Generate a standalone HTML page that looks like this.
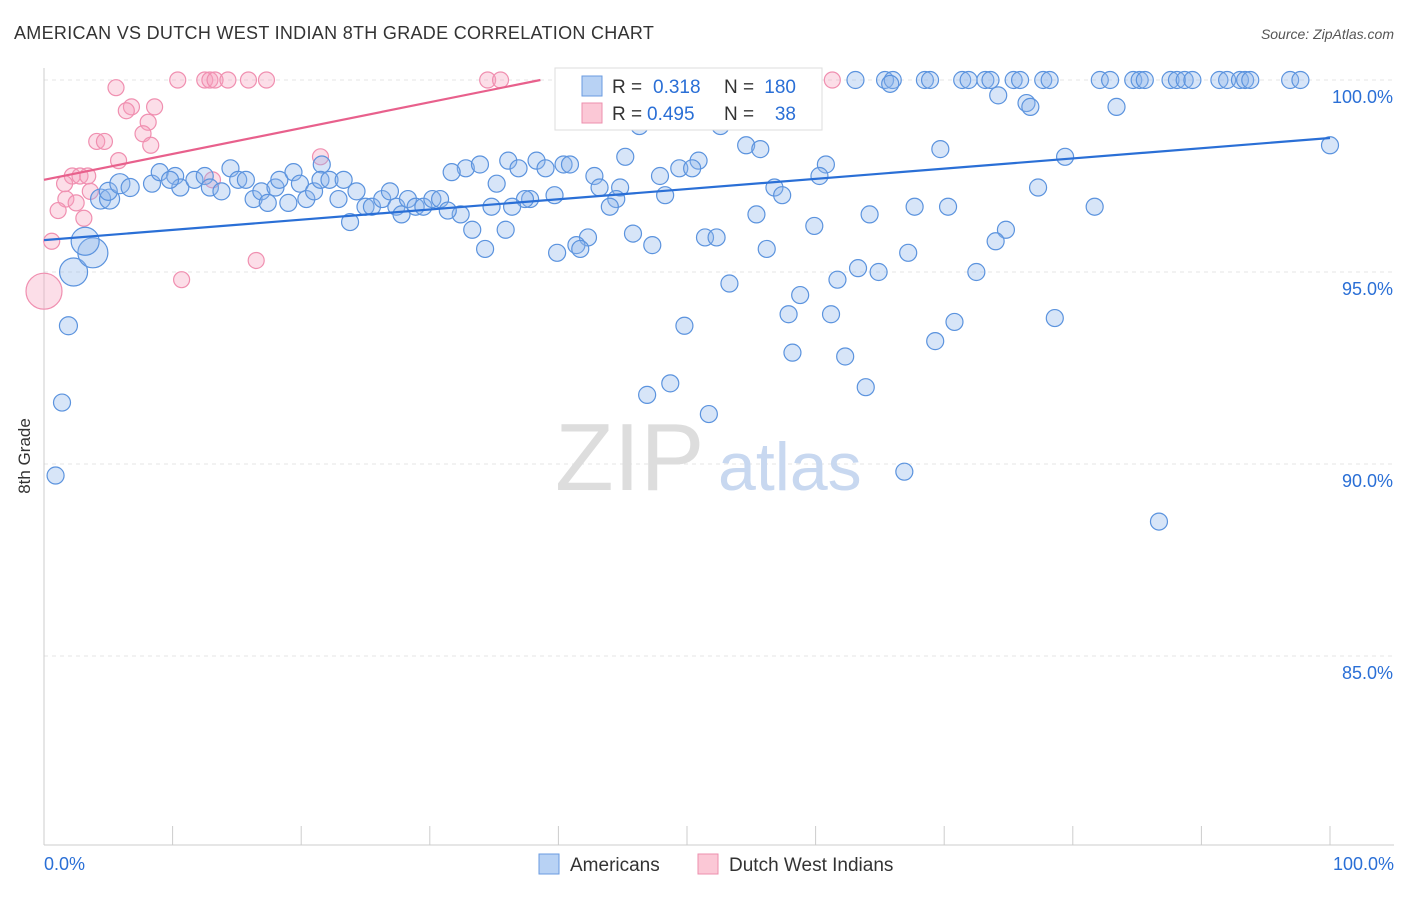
<!DOCTYPE html>
<html><head><meta charset="utf-8"><style>
body{margin:0;background:#fff;font-family:"Liberation Sans",sans-serif}
svg text{font-family:"Liberation Sans",sans-serif}
</style></head><body>
<svg id="chart" width="1406" height="892">
<text x="14" y="39" font-size="18" letter-spacing="0.3" fill="#333">AMERICAN VS DUTCH WEST INDIAN 8TH GRADE CORRELATION CHART</text>
<text x="1394" y="39" font-size="14" fill="#555" text-anchor="end" font-style="italic">Source: ZipAtlas.com</text>
<text x="30" y="456" font-size="17" fill="#333" transform="rotate(-90 30 456)" text-anchor="middle">8th Grade</text>
<g id="grid"></g>
<text x="555" y="490" font-size="96" fill="#ddd" font-family="Liberation Serif">ZIP</text>
<text x="718" y="490" font-size="68" fill="#c8d8f0">atlas</text>
<g id="marks"></g>
<g>
<rect x="555" y="68" width="267" height="62" fill="#fff" stroke="#ddd"/>
<rect x="582" y="76" width="20" height="20" fill="#b8d2f4" stroke="#6a9be0"/>
<rect x="582" y="103" width="20" height="20" fill="#fbc8d6" stroke="#ec8fae"/>
<text x="612" y="93" font-size="19" fill="#333">R =</text>
<text x="653" y="93" font-size="19" fill="#2a6fd6">0.318</text>
<text x="724" y="93" font-size="19" fill="#333">N =</text>
<text x="796" y="93" font-size="19" fill="#2a6fd6" text-anchor="end">180</text>
<text x="612" y="120" font-size="19" fill="#333">R =</text>
<text x="647" y="120" font-size="19" fill="#2a6fd6">0.495</text>
<text x="724" y="120" font-size="19" fill="#333">N =</text>
<text x="796" y="120" font-size="19" fill="#2a6fd6" text-anchor="end">38</text>
</g>
<g>
<rect x="539" y="854" width="20" height="20" fill="#b8d2f4" stroke="#6a9be0"/>
<text x="570" y="871" font-size="19" fill="#333">Americans</text>
<rect x="698" y="854" width="20" height="20" fill="#fbc8d6" stroke="#ec8fae"/>
<text x="729" y="871" font-size="19" fill="#333">Dutch West Indians</text>
</g>
</svg>
<script>
const yTicks=[100,95,90,85];
const yTickLabels=["100.0%","95.0%","90.0%","85.0%"];
const xEndLabels=["0.0%","100.0%"];
const blueX=[59.2,63.1,65.4,66.0,68.5,68.9,71.4,71.9,73.2,73.6,75.4,75.9,77.7,78.2,82.1,82.9,84.7,85.2,85.6,87.6,88.1,88.7,89.3,91.4,92.0,93.0,93.4,93.8,96.9,97.7,
65.8,74.2,76.4,76.7,83.4,46.3,52.6,54.6,55.7,69.7,100,45.2,50.9,60.8,79.4,36.1,38.3,40.4,40.9,32.8,33.9,42.8,49.4,50.4,47.9,60.3,31.7,36.9,39.0,35.2,43.2,44.8,56.8,57.4,77.3,48.3,39.7,37.8,37.4,44.5,44.0,34.8,36.4,67.7,70.3,81.7,32.4,55.4,64.2,23.8,33.3,35.9,45.8,51.4,52.3,59.9,74.8,74.0,42.3,41.4,41.7,34.3,39.9,47.3,56.2,67.2,63.3,64.9,72.5,61.7,53.3,58.8,57.9,61.2,70.8,78.6,49.8,69.3,58.2,62.3,48.7,46.9,63.9,51.7,66.9,86.7,
0.9,1.4,1.9,2.3,3.8,3.2,4.4,5.1,5.0,5.9,6.7,8.4,9.0,10.2,10.6,9.8,11.7,12.5,12.9,13.8,14.5,15.1,15.7,16.3,16.9,17.4,18.0,18.3,19.0,19.4,19.9,20.4,21.0,21.6,21.5,22.2,22.9,23.3,24.3,25.0,25.5,26.3,26.9,27.4,27.8,28.3,28.9,29.5,30.2,30.8,31.4];
const blueY=[100,100,100,100,100,100,100,100,100,100,100,100,100,100,100,100,100,100,100,100,100,100,100,100,100,100,100,100,100,100,
99.9,99.6,99.4,99.3,99.3,98.8,98.8,98.3,98.2,98.2,98.3,98.0,97.9,97.8,98.0,97.9,97.9,97.8,97.8,97.7,97.8,97.5,97.7,97.7,97.5,97.5,97.6,97.7,97.7,97.3,97.2,97.2,97.2,97.0,97.2,97.0,97.0,96.9,96.9,96.9,96.7,96.7,96.7,96.7,96.7,96.7,96.5,96.5,96.5,96.3,96.1,96.1,96.0,95.9,95.9,96.2,96.1,95.8,95.9,95.7,95.6,95.6,95.5,95.7,95.6,95.5,95.1,95.0,95.0,94.8,94.7,94.4,93.9,93.9,93.7,93.8,93.6,93.2,92.9,92.8,92.1,91.8,92.0,91.3,89.8,88.5,
89.7,91.6,93.6,95.0,95.5,95.8,96.9,96.9,97.1,97.3,97.2,97.3,97.6,97.5,97.2,97.4,97.4,97.5,97.2,97.1,97.7,97.4,97.4,96.9,97.1,96.8,97.2,97.4,96.8,97.6,97.3,96.9,97.1,97.8,97.4,97.4,96.9,97.4,97.1,96.7,96.7,96.9,97.1,96.7,96.5,96.9,96.7,96.7,96.9,96.9,96.6];
const blueBig=[0,0,9,14,15,14,10,10,9,10,9];
const pinkX=[5.6,10.4,12.5,12.9,13.3,14.3,15.9,17.3,34.5,35.5,61.3,6.8,6.4,8.6,8.1,7.7,8.3,4.1,4.7,21.5,5.8,2.2,2.8,3.4,1.6,13.1,3.6,1.7,2.5,1.1,3.1,0.6,16.5,10.7,0];
const pinkY=[99.8,100,100,100,100,100,100,100,100,100,100,99.3,99.2,99.3,98.9,98.6,98.3,98.4,98.4,98.0,97.9,97.5,97.5,97.5,97.3,97.4,97.1,96.9,96.8,96.6,96.4,95.8,95.3,94.8,94.5];
const blueTrend=[95.83,98.49];
const pinkTrend=[97.4,100,38.6];
const NS="http://www.w3.org/2000/svg";
const xs=v=>44+v*12.86, ys=v=>80+(100-v)*38.4;
function mk(t,a,p){const e=document.createElementNS(NS,t);for(const k in a)e.setAttribute(k,a[k]);p.appendChild(e);return e;}
const g=document.getElementById('grid'),m=document.getElementById('marks');
yTicks.forEach((v,i)=>{
 const l=mk('line',{x1:44,x2:1394,y1:ys(v),y2:ys(v),stroke:'#e4e4e4','stroke-dasharray':'4 4'},g);
 
 
 const t=mk('text',{x:1393,y:ys(v)+23,'font-size':18,fill:'#2a6fd6','text-anchor':'end'},g);t.textContent=yTickLabels[i];
 
 
});
const ax=mk('line',{x1:44,x2:1394,y1:845,y2:845,stroke:'#ccc'},g);


const ay=mk('line',{x1:44,x2:44,y1:68,y2:845,stroke:'#ccc'},g);


for(let i=0;i<=10;i++){const tk=mk('line',{x1:xs(i*10),x2:xs(i*10),y1:826,y2:845,stroke:'#ccc'},g);
 
 }
[[0,'start',44],[100,'end',1394]].forEach((d,i)=>{const t=mk('text',{x:d[2],y:870,'font-size':18,fill:'#2a6fd6','text-anchor':d[1]},g);t.textContent=xEndLabels[i];
 
 });
pinkX.forEach((x,i)=>{const c=mk('circle',{cx:xs(x),cy:ys(pinkY[i]),r:i==pinkX.length-1?18:8,fill:'rgba(246,160,190,0.35)',stroke:'#f08fb0','stroke-width':1.2},m);
 
 });
blueX.forEach((x,i)=>{const k=i-(blueX.length-51);let r=8.5;if(k>=0&&k<blueBig.length&&blueBig[k])r=blueBig[k];
 const c=mk('circle',{cx:xs(x),cy:ys(blueY[i]),r:r,fill:'rgba(140,180,235,0.35)',stroke:'#5b93de','stroke-width':1.2},m);
 
 });
const bl=mk('line',{x1:xs(0),y1:ys(blueTrend[0]),x2:xs(100),y2:ys(blueTrend[1]),stroke:'#2a6fd6','stroke-width':2.2},m);


const pl=mk('line',{x1:xs(0),y1:ys(pinkTrend[0]),x2:xs(pinkTrend[2]),y2:ys(pinkTrend[1]),stroke:'#e8608c','stroke-width':2.2},m);


</script>
</body></html>
